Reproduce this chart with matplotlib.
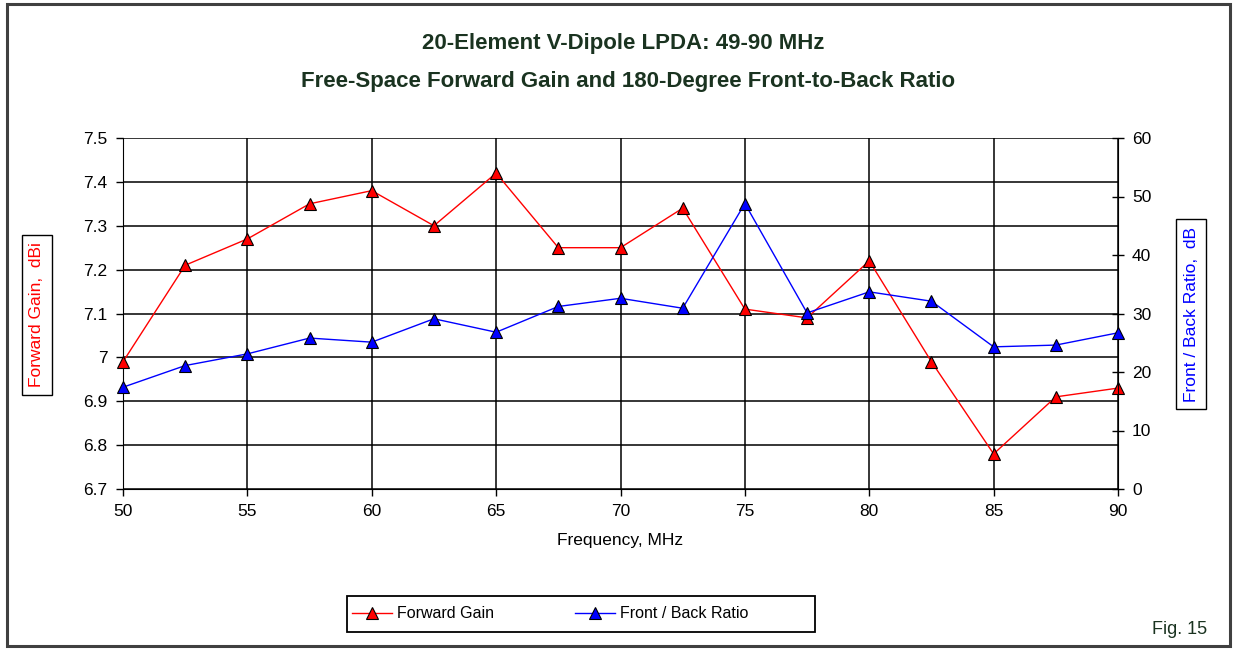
import matplotlib.pyplot as plt
from matplotlib.patches import Rectangle

freq = [50, 52.5, 55, 57.5, 60, 62.5, 65, 67.5, 70, 72.5, 75, 77.5, 80, 82.5, 85, 87.5, 90]
gain = [6.99, 7.21, 7.27, 7.35, 7.38, 7.30, 7.42, 7.25, 7.25, 7.34, 7.11, 7.09, 7.22, 6.99, 6.78, 6.91, 6.93]
fb = [17.4, 21.1, 23.1, 25.8, 25.1, 29.1, 26.8, 31.2, 32.6, 30.9, 48.8, 30.1, 33.7, 32.1, 24.3, 24.6, 26.7]

gain_ticks = [6.7, 6.8, 6.9, 7.0, 7.1, 7.2, 7.3, 7.4, 7.5]
gain_labels = ['6.7', '6.8', '6.9', '7', '7.1', '7.2', '7.3', '7.4', '7.5']
fb_ticks = [0, 10, 20, 30, 40, 50, 60]
freq_ticks = [50, 55, 60, 65, 70, 75, 80, 85, 90]

plt.rcParams['font.family'] = ['Liberation Sans', 'DejaVu Sans']
W, H = 1235, 649
fig = plt.figure(figsize=(W / 100, H / 100), dpi=100)

# outer frame
fig.add_artist(Rectangle((7 / W, 3 / H), 1223 / W, 642 / H, transform=fig.transFigure,
                         fill=False, edgecolor='#404040', lw=2.2))

ax1 = fig.add_axes([123 / W, 1 - 489 / H, (1118 - 123) / W, (489 - 138) / H])
ax2 = ax1.twinx()

ax1.plot(freq, gain, c='#ff0000', lw=1, marker='^', ms=8, mfc='#ff0000', mec='black', mew=0.8,
         label='Forward Gain', zorder=4, clip_on=False)
ax2.plot(freq, fb, c='#0000ff', lw=1, marker='^', ms=8, mfc='#0000ff', mec='black', mew=0.8,
         label='Front / Back Ratio', zorder=4, clip_on=False)

ax1.set_xlim(50, 90)
ax1.set_ylim(6.7, 7.5)
ax2.set_ylim(0, 60)
ax1.set_xticks(freq_ticks)
ax1.set_yticks(gain_ticks)
ax1.set_yticklabels(gain_labels)
ax2.set_yticks(fb_ticks)

ax1.grid(True, color='black', lw=1.1)
ax1.set_axisbelow(True)
for a in (ax1, ax2):
    for s in a.spines.values():
        s.set_visible(False)
ax1.spines['left'].set_visible(True)
ax1.spines['bottom'].set_visible(True)
ax2.spines['right'].set_visible(True)
ax1.tick_params(axis='both', labelsize=12.5, length=5, width=1, direction='out', pad=6)
ax2.tick_params(axis='y', labelsize=12.5, length=8, width=1, direction='inout', pad=6)

ax1.set_xlabel('Frequency, MHz', fontsize=12.5, labelpad=10)

fig.text(37 / W, 1 - 315 / H, 'Forward Gain,  dBi', rotation=90, color='#ff0000', fontsize=12.5,
         ha='center', va='center',
         bbox=dict(boxstyle='square,pad=0.45', fc='white', ec='black', lw=1))
fig.text(1191 / W, 1 - 314 / H, 'Front / Back Ratio,  dB', rotation=90, color='#0000ff', fontsize=12.5,
         ha='center', va='center',
         bbox=dict(boxstyle='square,pad=0.45', fc='white', ec='black', lw=1))

fig.text(623 / W, 1 - 43 / H, '20-Element V-Dipole LPDA: 49-90 MHz', ha='center', va='center',
         fontsize=16, fontweight='bold', color='#1a3320')
fig.text(628 / W, 1 - 82 / H, 'Free-Space Forward Gain and 180-Degree Front-to-Back Ratio',
         ha='center', va='center', fontsize=16, fontweight='bold', color='#1a3320')

fig.text(1180 / W, 1 - 630 / H, 'Fig. 15', ha='center', va='center', fontsize=13, color='#1a3320')

# legend box drawn separately so it can be wider than its entries
fig.add_artist(Rectangle((347 / W, 1 - 632 / H), (815 - 347) / W, 36 / H, transform=fig.transFigure,
                         fill=False, edgecolor='black', lw=1.3))
h1, l1 = ax1.get_legend_handles_labels()
h2, l2 = ax2.get_legend_handles_labels()
leg = fig.legend(h1 + h2, l1 + l2, loc='center left', bbox_to_anchor=(352 / W, 1 - 614 / H), ncol=2,
                 fontsize=11.5, frameon=False, handlelength=2.5,
                 columnspacing=5.1, borderpad=0, handletextpad=0.3, borderaxespad=0)

fig.savefig('out.png', dpi=100)
